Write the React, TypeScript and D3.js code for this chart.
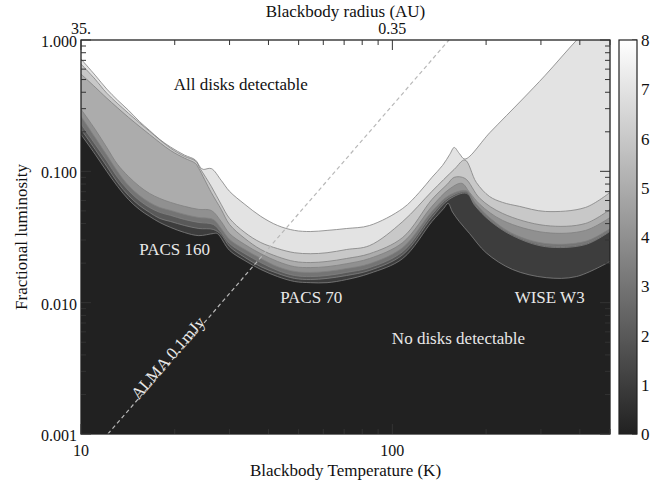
import React, { useEffect, useRef } from 'react';
import * as d3 from 'd3';

type Pt = [number, number];

// lower edge of each "n disks detectable" region: [blackbody temperature (K), fractional luminosity]
const level1Edge: Pt[] = [
    [10, 0.191], [11.1, 0.135], [12.1, 0.0999], [13.1, 0.0769], [14.2, 0.0611], [15.4, 0.0513],
    [16.6, 0.0454], [17.9, 0.0408], [19.4, 0.0374], [21.5, 0.0342], [23.9, 0.0324], [26.6, 0.0336],
    [27.4, 0.0336], [30, 0.025], [33.6, 0.0209], [37.8, 0.0179], [42.8, 0.0158], [48.5, 0.0145],
    [54.5, 0.0142], [61.7, 0.0142], [71.3, 0.015], [84.5, 0.0167], [108, 0.0217], [134, 0.0415],
    [146, 0.052], [151, 0.057], [156, 0.049], [164, 0.0415], [177, 0.0336], [200, 0.024],
    [243, 0.0179], [312, 0.0155], [390, 0.0158], [500, 0.0206],
];
const level2Edge: Pt[] = [
    [10, 0.209], [11.1, 0.147], [12.1, 0.109], [13.1, 0.0824], [14.2, 0.0655], [15.4, 0.055],
    [16.6, 0.0487], [17.9, 0.0438], [19.4, 0.0415], [21.5, 0.0387], [23.9, 0.0367], [26.6, 0.0361],
    [28.2, 0.033], [30, 0.0268], [33.6, 0.0221], [37.8, 0.0188], [42.8, 0.0167], [48.5, 0.0153],
    [54.5, 0.015], [61.7, 0.0153], [71.3, 0.0161], [84.5, 0.0176], [108, 0.0232], [134, 0.0445],
    [152, 0.0611], [173, 0.068], [184, 0.055], [205, 0.0423], [243, 0.0324], [310, 0.0267],
    [417, 0.0277], [500, 0.0349],
];
const level3Edge: Pt[] = [
    [10, 0.229], [11.1, 0.161], [12.1, 0.12], [13.1, 0.09], [14.2, 0.0716], [15.4, 0.06],
    [16.6, 0.0531], [17.9, 0.0487], [19.4, 0.0462], [21.5, 0.043], [23.9, 0.0408], [26.6, 0.0394],
    [28.2, 0.0342], [30, 0.0282], [33.6, 0.0236], [37.8, 0.0202], [42.8, 0.0176], [48.5, 0.0161],
    [54.5, 0.0158], [61.7, 0.0161], [71.3, 0.017], [84.5, 0.0185], [108, 0.0245], [134, 0.047],
    [152, 0.0633], [173, 0.0695], [184, 0.056], [205, 0.043], [243, 0.033], [310, 0.0272],
    [417, 0.0282], [500, 0.0355],
];
const level4Edge: Pt[] = [
    [10, 0.263], [11.1, 0.181], [12.1, 0.133], [13.1, 0.0999], [14.2, 0.0782], [15.4, 0.0655],
    [16.6, 0.058], [17.9, 0.0531], [19.4, 0.0504], [21.5, 0.047], [23.9, 0.0445], [26.6, 0.043],
    [28.2, 0.0367], [30, 0.0303], [33.6, 0.0254], [37.8, 0.0217], [42.8, 0.0188], [48.5, 0.0173],
    [54.5, 0.017], [61.7, 0.0173], [71.3, 0.0182], [84.5, 0.0198], [108, 0.0263], [134, 0.0495],
    [152, 0.0655], [173, 0.071], [184, 0.058], [205, 0.0445], [243, 0.0336], [310, 0.0282],
    [417, 0.0293], [500, 0.0367],
];
const level5Edge: Pt[] = [
    [10, 0.297], [11.1, 0.209], [12.1, 0.152], [13.1, 0.113], [14.2, 0.0915], [15.4, 0.0769],
    [16.6, 0.0679], [17.9, 0.0622], [19.4, 0.058], [21.5, 0.0541], [23.9, 0.0513], [26.2, 0.0504],
    [28.2, 0.0415], [30, 0.0336], [33.6, 0.0277], [37.8, 0.0236], [42.8, 0.0206], [48.5, 0.0188],
    [54.5, 0.0185], [61.7, 0.0188], [71.3, 0.0198], [84.5, 0.0217], [108, 0.0287], [134, 0.0541],
    [152, 0.0729], [167, 0.081], [177, 0.0691], [191, 0.056], [226, 0.0423], [310, 0.0342],
    [417, 0.0355], [500, 0.0445],
];
const level6Edge: Pt[] = [
    [10, 0.55], [11.1, 0.438], [12.1, 0.361], [14.2, 0.258], [16.6, 0.191], [19.4, 0.144],
    [21.5, 0.126], [23.3, 0.115], [23.9, 0.105], [26.2, 0.0691], [28.2, 0.0513], [30, 0.0394],
    [33.6, 0.0308], [37.8, 0.0254], [42.8, 0.0224], [48.5, 0.0206], [54.5, 0.0202], [61.7, 0.0206],
    [71.3, 0.0217], [84.5, 0.0236], [108, 0.0314], [134, 0.0611], [150, 0.0796], [158, 0.09],
    [171, 0.0884], [191, 0.0622], [226, 0.0478], [310, 0.0387], [417, 0.0401], [500, 0.0513],
];
const level7Edge: Pt[] = [
    [10, 0.656], [11.1, 0.503], [12.1, 0.394], [14.2, 0.277], [16.6, 0.202], [19.4, 0.15],
    [21.5, 0.13], [23.3, 0.12], [24.2, 0.104], [26.2, 0.0769], [28.2, 0.056], [30, 0.0438],
    [33.6, 0.0342], [37.8, 0.0287], [42.8, 0.0258], [48.5, 0.024], [54.5, 0.0236], [61.7, 0.024],
    [71.3, 0.0254], [84.5, 0.0272], [108, 0.0415], [134, 0.0704], [158, 0.1035], [171, 0.122],
    [186, 0.0824], [205, 0.0644], [226, 0.058], [256, 0.0541], [310, 0.0495], [417, 0.0531],
    [500, 0.0691],
];
const level8Edge: Pt[] = [
    [10, 0.716], [11.1, 0.54], [12.1, 0.423], [13.1, 0.349], [14.2, 0.292], [15.4, 0.24],
    [16.6, 0.205], [17.9, 0.175], [19.4, 0.153], [21.5, 0.133], [23.3, 0.122], [24.2, 0.107],
    [24.7, 0.1035], [26.2, 0.105], [28.2, 0.0854], [30, 0.0704], [33.6, 0.056], [37.8, 0.0454],
    [42.8, 0.0387], [48.5, 0.0355], [54.5, 0.0348], [61.7, 0.0355], [71.3, 0.0367], [84.5, 0.0387],
    [108, 0.0522], [122, 0.0691], [134, 0.09], [145, 0.111], [153, 0.135], [158, 0.152],
    [164, 0.137], [171, 0.124], [206, 0.198], [262, 0.355], [310, 0.54], [391, 1.0], [500, 1.82],
];

const levelEdges = [level1Edge, level2Edge, level3Edge, level4Edge, level5Edge, level6Edge, level7Edge, level8Edge];
const levelCounts = [1, 2, 3, 4, 5, 6, 7, 8];
const colorbarValues = [0, 1, 2, 3, 4, 5, 6, 7, 8];
const yTickValues = [0.001, 0.01, 0.1, 1];
const yTickLabels = ['0.001', '0.010', '0.100', '1.000'];
const xTickValues = [10, 100];
const xTickLabels = ['10', '100'];
const radiusTickLabels = ['35.', '0.35'];
const almaLimit: Pt[] = [[12.2, 0.001], [152, 1]];

const annotations = [
    { text: 'All disks detectable', t: 32.6, f: 0.46, light: false, angle: 0 },
    { text: 'PACS 160', t: 20.0, f: 0.0258, light: true, angle: 0 },
    { text: 'PACS 70', t: 54.9, f: 0.0111, light: true, angle: 0 },
    { text: 'WISE W3', t: 320, f: 0.0111, light: true, angle: 0 },
    { text: 'No disks detectable', t: 163, f: 0.0054, light: true, angle: 0 },
    { text: 'ALMA 0.1mJy', t: 19.0, f: 0.0038, light: true, angle: -49 },
];

const FONT = "'Liberation Serif', 'Times New Roman', serif";

const initialize = () => {
    const margin = {
        top: 40, right: 55, bottom: 49, left: 81,
    };
    const width = 665 - margin.left - margin.right;
    const height = 483 - margin.top - margin.bottom;
    return { margin, width, height };
};

const App = () => {
    const ref = useRef<SVGSVGElement>(null);

    useEffect(() => {
        const { margin, width, height } = initialize();
        const svg = d3.select(ref.current);
        svg.selectAll('*').remove();

        const x = d3.scaleLog().domain([10, 500]).range([margin.left, margin.left + width]);
        const y = d3.scaleLog().domain([0.001, 1]).range([margin.top + height, margin.top]);
        const color = d3.scaleLinear<string>().domain([0, 8]).range(['#212121', '#ffffff']);
        const top = margin.top;
        const bottom = margin.top + height;
        const left = margin.left;
        const right = margin.left + width;
        const smooth = d3.curveCatmullRom.alpha(0.5);

        const defs = svg.append('defs');
        defs.append('clipPath').attr('id', 'plot-clip')
            .append('rect')
            .attr('x', left).attr('y', top).attr('width', width).attr('height', height);

        const plot = svg.append('g').attr('clip-path', 'url(#plot-clip)');

        // zero detections background
        plot.append('rect')
            .attr('x', left).attr('y', top).attr('width', width).attr('height', height)
            .attr('fill', color(0));

        // filled regions, each from its edge up to the top
        const area = d3.area<Pt>()
            .x((d) => x(d[0]))
            .y0(0)
            .y1((d) => y(d[1]))
            .curve(smooth);
        levelEdges.forEach((edge, i) => {
            plot.append('path')
                .attr('d', area(edge))
                .attr('fill', color(levelCounts[i]));
        });

        // contour lines
        const line = d3.line<Pt>().x((d) => x(d[0])).y((d) => y(d[1])).curve(smooth);
        levelEdges.forEach((edge) => {
            plot.append('path')
                .attr('d', line(edge))
                .attr('fill', 'none')
                .attr('stroke', '#808080')
                .attr('stroke-width', 0.8);
        });

        // ALMA limit
        plot.append('path')
            .attr('d', d3.line<Pt>().x((d) => x(d[0])).y((d) => y(d[1]))(almaLimit))
            .attr('fill', 'none')
            .attr('stroke', '#b8b8b8')
            .attr('stroke-width', 1.2)
            .attr('stroke-dasharray', '4,3');

        // annotations
        annotations.forEach((a) => {
            const px = x(a.t);
            const py = y(a.f);
            svg.append('text')
                .attr('x', px).attr('y', py).attr('dy', '0.35em')
                .attr('text-anchor', 'middle')
                .attr('transform', a.angle ? `rotate(${a.angle},${px},${py})` : null)
                .attr('font-family', FONT)
                .attr('font-size', 17)
                .attr('fill', a.light ? '#e8e8e8' : '#111')
                .text(a.text);
        });

        // frame
        svg.append('rect')
            .attr('x', left).attr('y', top).attr('width', width).attr('height', height)
            .attr('fill', 'none').attr('stroke', '#222').attr('stroke-width', 1.3);

        const ticks = svg.append('g').attr('stroke', '#333').attr('stroke-width', 1);
        const isMajor = (v: number) => Math.abs(Math.log10(v) - Math.round(Math.log10(v))) < 1e-6;

        x.ticks().forEach((v) => {
            const len = isMajor(v) ? 10 : 5;
            const px = x(v);
            ticks.append('line').attr('x1', px).attr('x2', px).attr('y1', bottom).attr('y2', bottom - len);
            ticks.append('line').attr('x1', px).attr('x2', px).attr('y1', top).attr('y2', top + len);
        });
        y.ticks().forEach((v) => {
            const len = isMajor(v) ? 10 : 5;
            const py = y(v);
            ticks.append('line').attr('x1', left).attr('x2', left + len).attr('y1', py).attr('y2', py);
            ticks.append('line').attr('x1', right).attr('x2', right - len).attr('y1', py).attr('y2', py);
        });

        const label = (tx: number, ty: number, text: string, anchor = 'middle', size = 17) => svg.append('text')
            .attr('x', tx).attr('y', ty)
            .attr('text-anchor', anchor)
            .attr('font-family', FONT)
            .attr('font-size', size)
            .attr('fill', '#111')
            .text(text);

        yTickValues.forEach((v, i) => {
            label(left - 4, y(v) + 7, yTickLabels[i], 'end', 16);
        });
        xTickValues.forEach((v, i) => {
            label(x(v), bottom + 22, xTickLabels[i], 'middle', 16);
            label(x(v), top - 6, radiusTickLabels[i], 'middle', 16);
        });
        label((left + right) / 2, 476, 'Blackbody Temperature (K)');
        label((left + right) / 2, 17, 'Blackbody radius (AU)');
        svg.append('text')
            .attr('transform', `translate(27,${(top + bottom) / 2}) rotate(-90)`)
            .attr('text-anchor', 'middle')
            .attr('font-family', FONT)
            .attr('font-size', 17)
            .attr('fill', '#111')
            .text('Fractional luminosity');

        // colorbar
        const cb = d3.scaleLinear().domain([0, 8]).range([bottom, top]);
        const cbX = 619;
        const cbW = 18;
        const grad = defs.append('linearGradient')
            .attr('id', 'cb-grad')
            .attr('x1', 0).attr('y1', 1).attr('x2', 0).attr('y2', 0);
        colorbarValues.forEach((v) => {
            grad.append('stop').attr('offset', v / 8).attr('stop-color', color(v));
        });
        svg.append('rect')
            .attr('x', cbX).attr('y', top).attr('width', cbW).attr('height', height)
            .attr('fill', 'url(#cb-grad)')
            .attr('stroke', '#222').attr('stroke-width', 1.2);
        colorbarValues.forEach((v) => {
            ticks.append('line')
                .attr('x1', cbX + cbW).attr('x2', cbX + cbW - 5)
                .attr('y1', cb(v)).attr('y2', cb(v));
            if (v < 8) {
                ticks.append('line')
                    .attr('x1', cbX + cbW).attr('x2', cbX + cbW - 3)
                    .attr('y1', cb(v + 0.5)).attr('y2', cb(v + 0.5));
            }
            label(cbX + cbW + 4, cb(v) + 6, String(v), 'start');
        });
    }, []);

    return (
        <svg
            ref={ref}
            width={665}
            height={483}
            style={{ position: 'absolute', left: 0, top: 0, background: '#fff' }}
        />
    );
};

export default App;
